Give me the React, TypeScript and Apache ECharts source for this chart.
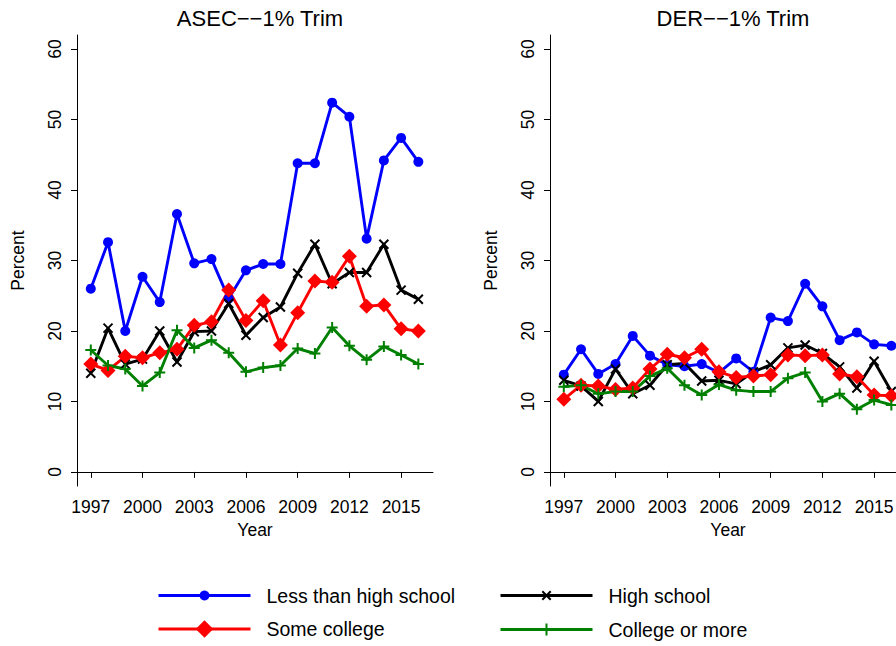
import React, { useEffect, useRef } from "react";
import * as echarts from "echarts";

const years = [1997, 1998, 1999, 2000, 2001, 2002, 2003, 2004, 2005, 2006, 2007, 2008, 2009, 2010, 2011, 2012, 2013, 2014, 2015, 2016];
const yearTicks = [1997, 2000, 2003, 2006, 2009, 2012, 2015];
const percentTicks = [0, 10, 20, 30, 40, 50, 60];

const seriesNames = ["Less than high school", "High school", "Some college", "College or more"];

// ASEC, 1% trim
const asecLessHS = [26.0, 32.6, 20.0, 27.7, 24.1, 36.6, 29.6, 30.2, 24.6, 28.6, 29.5, 29.5, 43.8, 43.8, 52.4, 50.4, 33.1, 44.2, 47.4, 44.0];
const asecHS = [14.0, 20.4, 15.3, 16.0, 20.0, 15.6, 19.9, 20.0, 23.9, 19.4, 21.9, 23.4, 28.2, 32.3, 26.7, 28.3, 28.3, 32.3, 25.8, 24.5];
const asecSome = [15.3, 14.4, 16.4, 16.2, 16.9, 17.4, 20.8, 21.3, 25.8, 21.5, 24.3, 18.0, 22.6, 27.1, 26.9, 30.6, 23.5, 23.7, 20.3, 20.0];
const asecCollege = [17.3, 15.1, 14.6, 12.2, 14.1, 20.1, 17.6, 18.7, 16.9, 14.2, 14.8, 15.1, 17.5, 16.8, 20.5, 17.9, 15.9, 17.8, 16.6, 15.3];

// DER, 1% trim
const derLessHS = [13.8, 17.4, 13.9, 15.3, 19.3, 16.5, 15.2, 15.0, 15.3, 14.1, 16.1, 14.2, 21.9, 21.4, 26.7, 23.5, 18.7, 19.8, 18.1, 17.9];
const derHS = [13.0, 12.2, 10.0, 14.6, 11.1, 12.3, 15.2, 15.4, 12.9, 13.0, 12.5, 14.2, 15.2, 17.6, 18.0, 16.8, 14.9, 11.9, 15.7, 11.4];
const derSome = [10.3, 12.3, 12.2, 11.7, 11.9, 14.6, 16.7, 16.2, 17.4, 14.2, 13.4, 13.6, 13.8, 16.6, 16.5, 16.6, 13.9, 13.5, 10.9, 10.8];
const derCollege = [12.1, 12.3, 11.1, 11.4, 11.4, 13.6, 14.7, 12.3, 10.9, 12.4, 11.6, 11.4, 11.4, 13.3, 14.1, 10.0, 11.1, 8.9, 10.2, 9.5];

const FONT = "Liberation Sans, Arial, Helvetica, sans-serif";

// marker look per education group; legendH sets the legend marker size (80% of it)
const styles = [
  { color: "#0000ff", symbol: "circle", size: 10, legendH: 12.5 },
  { color: "#000000", symbol: "path://M0,0L10,10M0,10L10,0", size: 9, legendH: 10.5 },
  { color: "#ff0000", symbol: "diamond", size: 15, legendH: 22 },
  { color: "#008000", symbol: "path://M5,0L5,10M0,5L10,5", size: 11, legendH: 15 },
];

// legend placement: [left of the line sample, vertical centre of the row]
const legendSpots = [
  [157, 596],
  [499, 596],
  [157, 630],
  [499, 630],
];
const LEGEND_TEXT_H = 21;

function makeSeries(values: number[][], idx: number) {
  return values.map((vals, i) => {
    const s = styles[i];
    const pathSym = s.symbol.startsWith("path://");
    return {
      type: "line",
      name: seriesNames[i],
      xAxisIndex: idx,
      yAxisIndex: idx,
      data: years.map((y, j) => [y, vals[j]]),
      symbol: s.symbol,
      symbolSize: s.size,
      showAllSymbol: true,
      lineStyle: { color: s.color, width: 2.9 },
      itemStyle: {
        color: s.color,
        borderColor: s.color,
        borderWidth: pathSym ? 2 : 0,
      },
      emphasis: { disabled: true },
    };
  });
}

function axisPair(left: number) {
  const grid = { left, top: 35, width: 356, height: 451 };
  const xAxis = {
    type: "value",
    min: 1996.2,
    max: 2016.85,
    name: "Year",
    nameLocation: "middle",
    nameGap: 27,
    nameTextStyle: { fontFamily: FONT, fontSize: 17.5, color: "#000" },
    axisLine: { show: true, lineStyle: { color: "#000", width: 1 } },
    axisTick: { show: true, length: 6, customValues: yearTicks, lineStyle: { color: "#000" } },
    axisLabel: {
      customValues: yearTicks,
      fontFamily: FONT,
      fontSize: 17.5,
      color: "#000",
      margin: 12,
      formatter: (v: number) => String(v),
    },
    splitLine: { show: false },
  };
  const yAxis = {
    type: "value",
    min: -2,
    max: 62,
    name: "Percent",
    nameLocation: "middle",
    nameRotate: 90,
    nameGap: 50,
    nameTextStyle: { fontFamily: FONT, fontSize: 17.5, color: "#000" },
    axisLine: { show: true, lineStyle: { color: "#000", width: 1 } },
    axisTick: { show: true, length: 6, customValues: percentTicks, lineStyle: { color: "#000" } },
    axisLabel: {
      customValues: percentTicks,
      rotate: 90,
      fontFamily: FONT,
      fontSize: 17.5,
      color: "#000",
      margin: 13,
    },
    splitLine: { show: false },
  };
  return { grid, xAxis, yAxis };
}

export default function App() {
  const ref = useRef<HTMLDivElement>(null);

  useEffect(() => {
    if (!ref.current) return;
    const chart = echarts.init(ref.current, undefined, { renderer: "svg" });
    const a = axisPair(77);
    const b = axisPair(550);
    const titleStyle = { fontFamily: FONT, fontSize: 22, fontWeight: "normal", color: "#000" };
    chart.setOption({
      animation: false,
      backgroundColor: "#fff",
      title: [
        { text: "ASEC\u2212\u22121% Trim", left: 255, top: 2, textAlign: "center", textStyle: titleStyle },
        { text: "DER\u2212\u22121% Trim", left: 728, top: 2, textAlign: "center", textStyle: titleStyle },
      ],
      grid: [a.grid, b.grid],
      xAxis: [{ ...a.xAxis, gridIndex: 0 }, { ...b.xAxis, gridIndex: 1 }],
      yAxis: [{ ...a.yAxis, gridIndex: 0 }, { ...b.yAxis, gridIndex: 1 }],
      legend: seriesNames.map((name, i) => ({
        data: [name],
        left: legendSpots[i][0],
        top: legendSpots[i][1] - Math.max(styles[i].legendH, LEGEND_TEXT_H) / 2,
        padding: 0,
        itemWidth: 92,
        itemHeight: styles[i].legendH,
        selectedMode: false,
        lineStyle: { width: 3 },
        textStyle: { fontFamily: FONT, fontSize: 19.5, color: "#000", padding: [0, 0, 0, 11] },
      })),
      series: [
        ...makeSeries([asecLessHS, asecHS, asecSome, asecCollege], 0),
        ...makeSeries([derLessHS, derHS, derSome, derCollege], 1),
      ],
    });
    return () => chart.dispose();
  }, []);

  return (
    <div style={{ position: "fixed", left: 0, top: 0, width: 896, height: 646, overflow: "hidden", background: "#fff" }}>
      <div ref={ref} style={{ width: 940, height: 646 }} />
    </div>
  );
}
